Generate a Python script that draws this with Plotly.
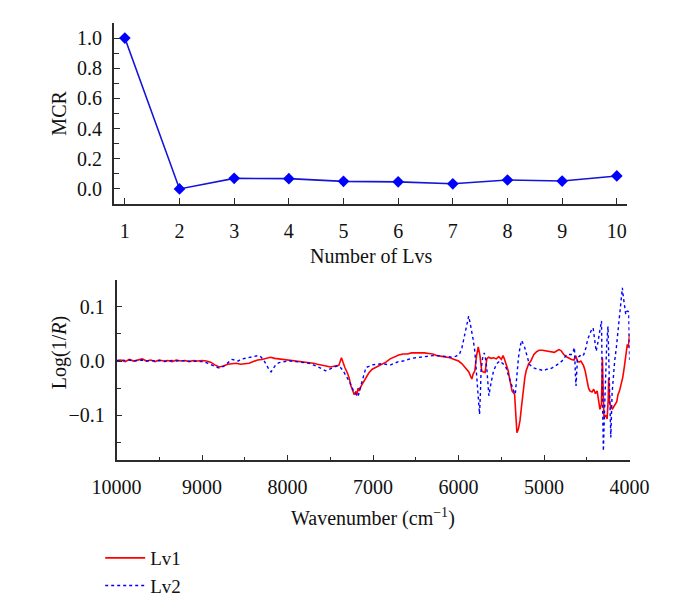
import plotly.graph_objects as go

# ---------------- data ----------------
n_lvs = [1, 2, 3, 4, 5, 6, 7, 8, 9, 10]
mcr = [1.0, 0.0, 0.070, 0.068, 0.050, 0.047, 0.034, 0.059, 0.052, 0.086]

wn_lv1 = [10000, 9950, 9900, 9850, 9800, 9750, 9700, 9650, 9600, 9550, 9500, 9450, 9400, 9350, 9300,
          9250, 9200, 9150, 9100, 9050, 9000, 8950, 8900, 8850, 8800, 8750, 8700, 8650, 8600, 8550,
          8500, 8450, 8400, 8350, 8300, 8250, 8200, 8150, 8100, 8050, 8000, 7950, 7900, 7850, 7800,
          7750, 7700, 7650, 7600, 7550, 7500, 7450, 7400, 7370, 7350, 7330, 7300, 7280, 7260, 7240,
          7220, 7200, 7190, 7175, 7160, 7140, 7110, 7080, 7050, 7010, 6950, 6900, 6850, 6800, 6750,
          6700, 6650, 6600, 6550, 6500, 6450, 6400, 6350, 6300, 6250, 6200, 6150, 6100, 6050, 6000,
          5960, 5930, 5900, 5880, 5860, 5845, 5830, 5810, 5790, 5770, 5750, 5730, 5710, 5690, 5670,
          5650, 5620, 5590, 5560, 5530, 5500, 5480, 5460, 5440, 5420, 5400, 5375, 5345, 5330, 5318,
          5300, 5282, 5265, 5246, 5225, 5210, 5180, 5155, 5120, 5090, 5060, 5020, 4980, 4940, 4900,
          4880, 4850, 4825, 4800, 4770, 4740, 4710, 4680, 4650, 4630, 4610, 4590, 4570, 4540, 4520,
          4500, 4480, 4465, 4440, 4420, 4400, 4380, 4360, 4347, 4330, 4318, 4308, 4300, 4280, 4263,
          4250, 4245, 4235, 4220, 4200, 4173, 4150, 4136, 4118, 4100, 4080, 4063, 4045, 4027, 4015,
          4005, 4000]
val_lv1 = [0.001, 0.002, -0.001, 0.003, 0.000, 0.002, 0.004, 0.000, 0.002, -0.001, 0.002, 0.000, 0.001, -0.001, 0.002,
           0.000, 0.001, -0.001, 0.001, 0.000, 0.001, 0.000, -0.002, -0.007, -0.011, -0.009, -0.006, -0.005, -0.004, -0.006,
           -0.005, -0.004, -0.001, 0.002, 0.003, 0.005, 0.007, 0.005, 0.004, 0.003, 0.002, 0.001, 0.001, 0.000, -0.001,
           -0.002, -0.004, -0.006, -0.007, -0.009, -0.011, -0.010, -0.008, 0.006, -0.004, -0.012, -0.022, -0.031, -0.045, -0.052,
           -0.062, -0.056, -0.063, -0.050, -0.055, -0.046, -0.038, -0.030, -0.022, -0.015, -0.010, -0.007, -0.002, 0.004, 0.008,
           0.011, 0.013, 0.013, 0.015, 0.015, 0.016, 0.015, 0.014, 0.013, 0.010, 0.009, 0.008, 0.006, 0.003, 0.000,
           -0.005, -0.010, -0.016, -0.020, -0.028, -0.033, -0.024, -0.018, 0.010, 0.026, 0.010, -0.018, -0.020, -0.021, 0.004,
           0.007, 0.005, 0.006, 0.004, 0.008, 0.003, 0.010, 0.002, -0.008, -0.018, -0.035, -0.055, -0.061, -0.100, -0.132,
           -0.125, -0.110, -0.085, -0.055, -0.030, -0.018, -0.005, 0.000, 0.012, 0.017, 0.020, 0.020, 0.019, 0.018, 0.017,
           0.016, 0.019, 0.021, 0.019, 0.012, 0.008, 0.005, 0.003, 0.002, 0.010, 0.000, -0.002, 0.000, -0.008, -0.018,
           -0.035, -0.050, -0.055, -0.057, -0.052, -0.060, -0.055, -0.075, -0.089, -0.080, 0.006, -0.060, -0.104, -0.100, -0.107,
           -0.070, -0.031, -0.075, -0.086, -0.088, -0.080, -0.075, -0.062, -0.055, -0.043, -0.030, -0.012, 0.010, 0.031, 0.025,
           0.045, 0.050]

wn_lv2 = [10000, 9950, 9900, 9850, 9800, 9750, 9700, 9650, 9600, 9550, 9500, 9450, 9400, 9350, 9300,
          9250, 9200, 9150, 9100, 9050, 9000, 8950, 8900, 8850, 8800, 8750, 8700, 8650, 8600, 8575,
          8550, 8500, 8450, 8400, 8350, 8320, 8280, 8250, 8220, 8193, 8160, 8139, 8100, 8050, 8000,
          7950, 7900, 7850, 7800, 7750, 7700, 7650, 7600, 7557, 7520, 7480, 7440, 7411, 7380, 7350,
          7302, 7270, 7229, 7200, 7175, 7160, 7138, 7110, 7083, 7050, 7011, 6950, 6902, 6850, 6793,
          6750, 6700, 6647, 6600, 6550, 6501, 6450, 6400, 6350, 6300, 6250, 6200, 6150, 6100, 6064,
          6030, 5991, 5960, 5937, 5910, 5882, 5865, 5853, 5830, 5810, 5790, 5773, 5755, 5745, 5737,
          5720, 5700, 5685, 5671, 5655, 5646, 5620, 5591, 5555, 5518, 5480, 5445, 5410, 5373, 5350,
          5337, 5318, 5300, 5282, 5264, 5245, 5227, 5200, 5173, 5130, 5082, 5040, 5009, 4970, 4936,
          4900, 4864, 4830, 4791, 4760, 4736, 4710, 4682, 4660, 4645, 4635, 4627, 4615, 4609, 4580,
          4560, 4536, 4510, 4490, 4464, 4440, 4427, 4410, 4391, 4370, 4354, 4340, 4329, 4318, 4307,
          4295, 4282, 4268, 4253, 4240, 4230, 4220, 4205, 4191, 4175, 4155, 4135, 4118, 4100, 4085,
          4075, 4060, 4045, 4030, 4020, 4010, 4003, 4000]
val_lv2 = [0.000, 0.002, 0.001, 0.002, 0.000, 0.001, 0.002, 0.000, 0.001, 0.000, 0.001, -0.001, 0.000, 0.001, 0.000,
           0.001, 0.000, 0.000, -0.001, 0.000, -0.001, -0.003, -0.006, -0.010, -0.013, -0.010, -0.004, 0.003, 0.001, 0.000,
           0.003, 0.005, 0.007, 0.009, 0.010, 0.009, 0.002, -0.006, -0.015, -0.020, -0.012, -0.007, -0.003, -0.001, 0.000,
           0.000, -0.001, -0.001, -0.002, -0.004, -0.007, -0.010, -0.014, -0.018, -0.016, -0.013, -0.010, -0.009, -0.012, -0.018,
           -0.031, -0.040, -0.055, -0.062, -0.066, -0.055, -0.043, -0.025, -0.012, -0.010, -0.007, -0.006, -0.005, -0.006, -0.007,
           -0.004, -0.001, 0.000, 0.003, 0.005, 0.006, 0.007, 0.009, 0.010, 0.010, 0.010, 0.009, 0.008, 0.007, 0.007,
           0.009, 0.012, 0.025, 0.043, 0.060, 0.083, 0.070, 0.061, 0.040, 0.018, -0.020, -0.055, -0.098, -0.060, -0.018,
           0.005, 0.015, 0.005, -0.012, -0.045, -0.064, -0.040, -0.018, -0.005, 0.000, -0.005, -0.012, -0.030, -0.049, -0.058,
           -0.061, -0.025, 0.006, 0.025, 0.038, 0.032, 0.025, 0.010, -0.006, -0.012, -0.015, -0.016, -0.018, -0.015, -0.015,
           -0.012, -0.009, -0.005, 0.000, 0.006, 0.012, 0.012, 0.012, 0.018, 0.025, -0.020, -0.046, -0.010, 0.006, 0.010,
           0.008, 0.012, 0.025, 0.040, 0.049, 0.060, 0.061, 0.035, 0.018, 0.035, 0.049, 0.065, 0.074, -0.060, -0.166,
           -0.100, -0.025, 0.030, 0.064, -0.040, -0.120, -0.141, -0.060, -0.025, 0.000, 0.025, 0.060, 0.086, 0.110, 0.135,
           0.120, 0.100, 0.086, 0.092, 0.092, 0.090, 0.030, 0.002]

# ---------------- figure ----------------
W, H = 674, 600
FONT = "Liberation Serif, Times New Roman, serif"
AX = "#2b2b2b"

def px_x(p):
    return p / W

def px_y(p):
    return 1 - p / H

fig = go.Figure()

fig.add_trace(go.Scatter(
    x=n_lvs, y=mcr, mode="lines+markers", xaxis="x", yaxis="y",
    line=dict(color="#1414d8", width=1.6),
    marker=dict(symbol="diamond", size=9, color="#0000ff"),
    showlegend=False,
))

fig.add_trace(go.Scatter(
    x=wn_lv1, y=val_lv1, mode="lines", name="Lv1", xaxis="x2", yaxis="y2",
    line=dict(color="#ff0000", width=1.6), legendgroup="g",
))
fig.add_trace(go.Scatter(
    x=wn_lv2, y=val_lv2, mode="lines", name="Lv2", xaxis="x2", yaxis="y2",
    line=dict(color="#0000ff", width=1.4, dash="dot"), legendgroup="g",
))

axis_common = dict(
    showline=True, linecolor=AX, linewidth=1.6, ticks="inside", ticklen=6,
    tickwidth=1.2, tickcolor=AX, showgrid=False, zeroline=False,
    tickfont=dict(family=FONT, size=20, color="#111"),
)

fig.update_layout(
    width=W, height=H,
    margin=dict(l=0, r=0, t=0, b=0),
    paper_bgcolor="white", plot_bgcolor="white",
    font=dict(family=FONT, size=20, color="#111"),
    xaxis=dict(domain=[px_x(86.7), px_x(636.7)], anchor="y", range=[0.8, 10.19],
               tickmode="array", tickvals=n_lvs, ticklabelstandoff=8, **axis_common),
    yaxis=dict(domain=[px_y(196), px_y(15)], anchor="x", range=[-0.1, 1.1],
               tick0=0, dtick=0.2, tickformat=".1f", ticklabelstandoff=6,
               minor=dict(dtick=0.1, ticks="inside", ticklen=5, tickcolor=AX, tickwidth=1.2),
               **axis_common),
    xaxis2=dict(domain=[px_x(89.5), px_x(639.3)], anchor="y2", range=[10000, 4000],
                tick0=4000, dtick=1000, tickformat="d", ticklabelstandoff=8,
                minor=dict(dtick=500, ticks="inside", ticklen=4, tickcolor=AX, tickwidth=1.2),
                **axis_common),
    yaxis2=dict(domain=[px_y(452.3), px_y(271.7)], anchor="x2", range=[-0.183, 0.15],
                tick0=0, dtick=0.1, tickformat=".1f", ticklabelstandoff=6,
                minor=dict(dtick=0.05, ticks="inside", ticklen=5, tickcolor=AX, tickwidth=1.2),
                **axis_common),
    legend=dict(x=px_x(72), y=px_y(531), xanchor="left", yanchor="top",
                font=dict(family=FONT, size=19, color="#111"),
                bgcolor="rgba(0,0,0,0)", tracegroupgap=0, itemwidth=40),
    showlegend=True,
)

annotations = [
    dict(text="Number of Lvs", x=px_x(361.7), y=px_y(248), xref="paper", yref="paper",
         showarrow=False, xanchor="center", yanchor="middle", font=dict(family=FONT, size=20, color="#111")),
    dict(text="MCR", x=px_x(28), y=px_y(105.5), xref="paper", yref="paper", textangle=-90,
         showarrow=False, xanchor="center", yanchor="middle", font=dict(family=FONT, size=20, color="#111")),
    dict(text="Wavenumber (cm<sup>−1</sup>)", x=px_x(364.4), y=px_y(509), xref="paper", yref="paper",
         showarrow=False, xanchor="center", yanchor="middle", font=dict(family=FONT, size=20, color="#111")),
    dict(text="Log(1/<i>R</i>)", x=px_x(28), y=px_y(345), xref="paper", yref="paper", textangle=-90,
         showarrow=False, xanchor="center", yanchor="middle", font=dict(family=FONT, size=20, color="#111")),
]
fig.update_layout(annotations=annotations)

fig.write_html("out.html")
